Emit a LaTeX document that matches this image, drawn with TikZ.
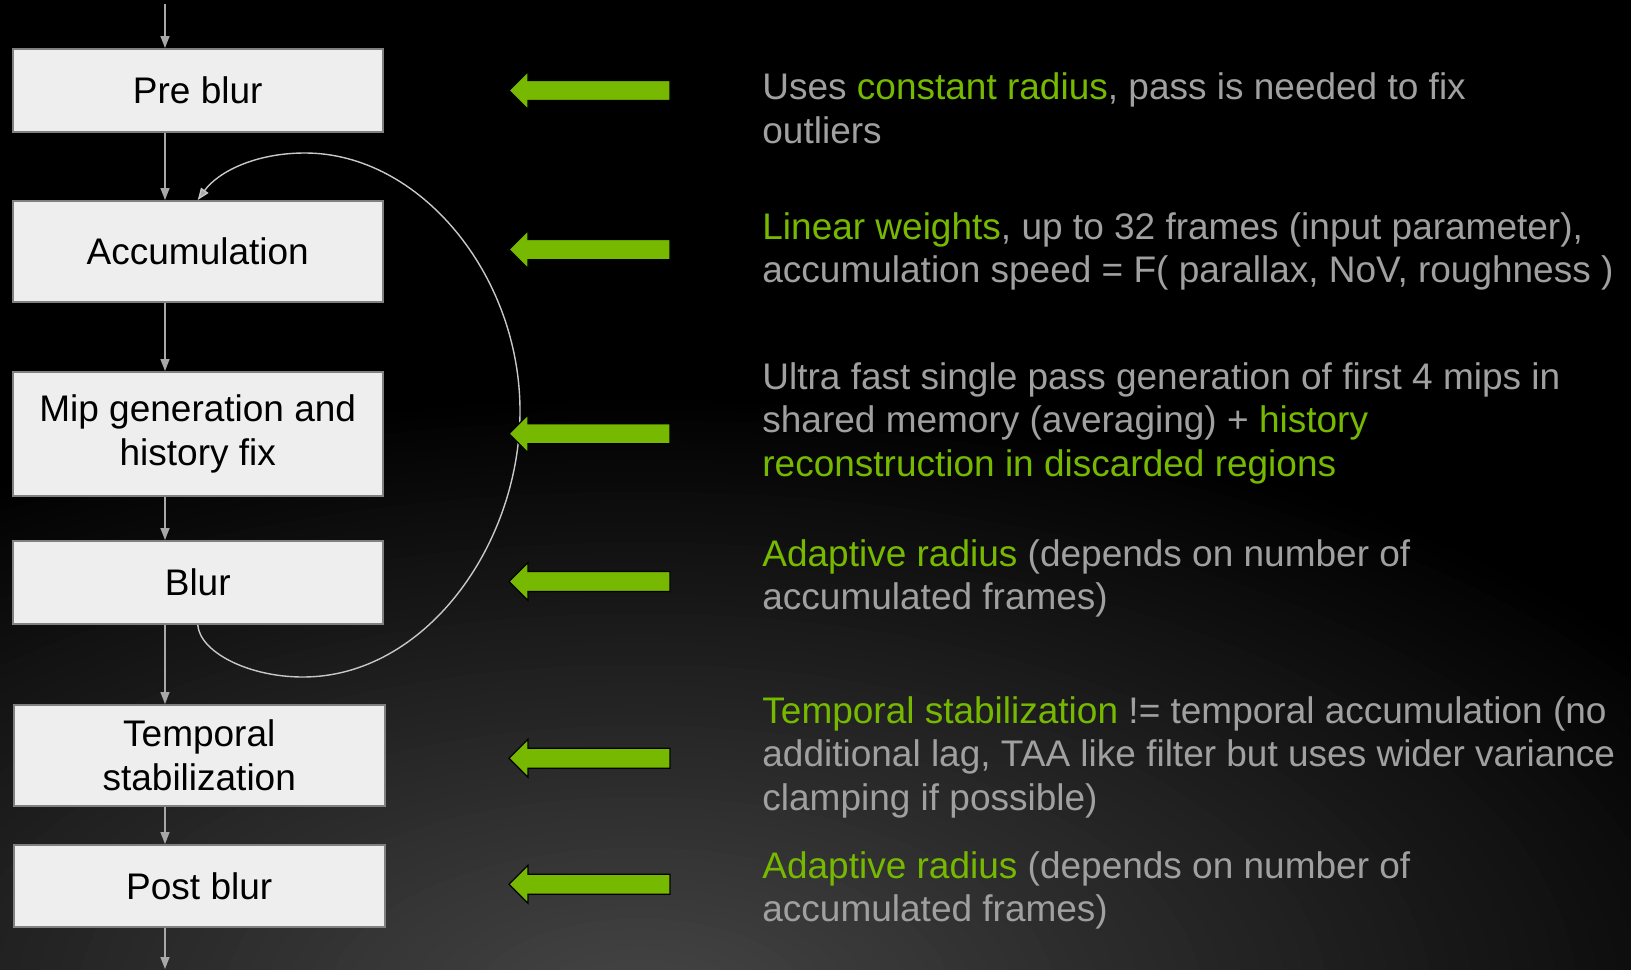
\documentclass[tikz,border=0pt]{standalone}
\usepackage{fontspec}
\setmainfont{Liberation Sans}
\usetikzlibrary{arrows.meta,calc}
\definecolor{nvgreen}{HTML}{76B900}
\definecolor{txtgray}{HTML}{A0A0A0}
\definecolor{boxfill}{HTML}{EEEEEE}
\definecolor{boxline}{HTML}{808080}
\definecolor{conngray}{HTML}{A8A8A8}
\definecolor{curvegray}{HTML}{C8C8C8}
\definecolor{glow}{HTML}{464646}
\newcommand{\hlg}[1]{\textcolor{nvgreen}{#1}}
\begin{document}
\begin{tikzpicture}[x=0.5pt,y=-0.5pt,
  stage/.style={draw=boxline, line width=1pt, fill=boxfill, minimum width=185.25pt,
    inner sep=0pt, align=center, text=black, font=\fontsize{18.5}{22}\selectfont},
  desc/.style={anchor=base west, inner sep=0pt, align=left, text=txtgray,
    font=\fontsize{18.5}{21.8}\selectfont},
  conn/.style={draw=conngray, line width=0.75pt, -{Triangle[length=6pt,width=4.5pt]}},
  loopconn/.style={draw=curvegray, line width=0.7pt, -{Triangle[length=6pt,width=4.5pt,fill=conngray]}},
  garrow/.pic={\filldraw[fill=nvgreen, draw=black, line width=0.6pt]
    (0,0) -- (19,-19) -- (19,-10) -- (161,-10) -- (161,10) -- (19,10) -- (19,19) -- cycle;}
]
% background: black with a soft glow from the bottom
\fill[black] (0,0) rectangle (1631,969);
\begin{scope}
  \clip (0,0) rectangle (1631,969);
  \foreach \i in {0,...,59}{
    \pgfmathsetmacro\rr{1-\i/60}
    \pgfmathsetmacro\pp{100*\i/60}
    \fill[glow!\pp!black] (640,1000) ellipse [x radius=1250*\rr, y radius=610*\rr];
  }
\end{scope}
\useasboundingbox (0,0) rectangle (1631,969);

% stages
\node[stage, minimum height=41.5pt] (pre) at (197.75,90.5) {Pre blur};
\node[stage, minimum height=50.5pt] (acc) at (197.75,251.5) {Accumulation};
\node[stage, minimum height=62pt] (mip) at (197.75,434) {Mip generation and\\history fix};
\node[stage, minimum height=41.5pt] (blur) at (197.75,582.5) {Blur};
\node[stage, minimum height=50.5pt] (tmp) at (199.25,755.5) {Temporal\\stabilization};
\node[stage, minimum height=41pt] (post) at (199.25,886) {Post blur};

% spine coordinates
\coordinate (in) at (165,4);
\coordinate (out) at (165,969);
\draw[conn] (in) -- (in |- pre.north);
\draw[conn] (pre.south -| in) -- (acc.north -| in);
\draw[conn] (acc.south -| in) -- (mip.north -| in);
\draw[conn] (mip.south -| in) -- (blur.north -| in);
\draw[conn] (blur.south -| in) -- (tmp.north -| in);
\draw[conn] (tmp.south -| in) -- (post.north -| in);
\draw[conn] (post.south -| in) -- (out);

% feedback loop
\draw[loopconn] (blur.south) .. controls (200,652) and (248,677) .. (303,677)
  .. controls (425,677) and (520,545) .. (520,411)
  .. controls (520,275) and (420,153) .. (305,153)
  .. controls (255,153) and (218,172) .. (acc.north);

% green arrows
\pic at (509,90.5) {garrow};
\pic at (509,249.6) {garrow};
\pic at (509,433.8) {garrow};
\pic at (509,581.5) {garrow};
\pic at (509,758.3) {garrow};
\pic at (509,884.2) {garrow};

% descriptions (anchored at the baseline of the last line)
\node[desc] (d1) at (762,143.1) {Uses \hlg{constant radius}, pass is needed to fix\\outliers};
\node[desc] (d2) at (762,282.6) {\hlg{Linear weights}, up to 32 frames (input parameter),\\accumulation speed = F( parallax, NoV, roughness )};
\node[desc] (d3) at (762,476.5) {Ultra fast single pass generation of first 4 mips in\\shared memory (averaging) + \hlg{history}\\\hlg{reconstruction in discarded regions}};
\node[desc] (d4) at (762,609.6) {\hlg{Adaptive radius} (depends on number of\\accumulated frames)};
\node[desc] (d5) at (762,810.5) {\hlg{Temporal stabilization} != temporal accumulation (no\\additional lag, TAA like filter but uses wider variance\\clamping if possible)};
\node[desc] (d6) at (762,921.9) {\hlg{Adaptive radius} (depends on number of\\accumulated frames)};
\end{tikzpicture}
\end{document}
